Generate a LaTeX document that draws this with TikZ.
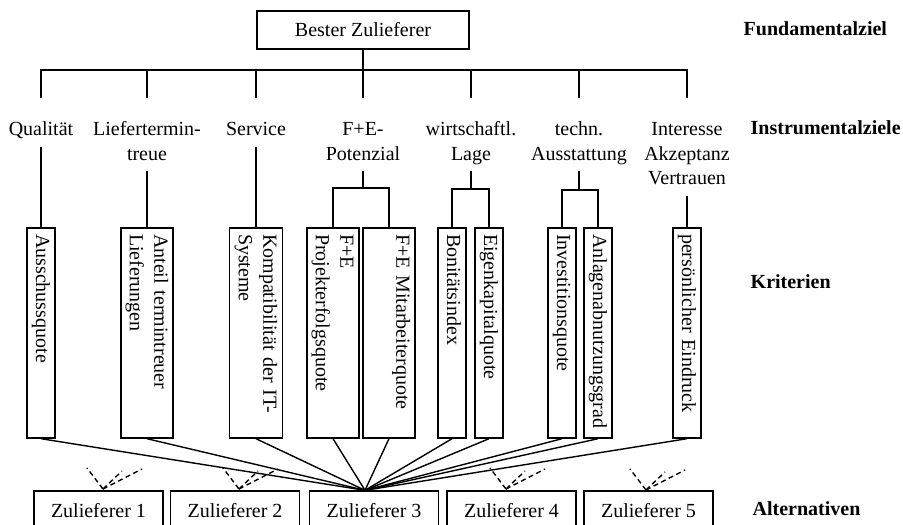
\documentclass[tikz,border=0pt]{standalone}
\usepackage{fontspec}
\setmainfont{Liberation Serif}
\begin{document}
\begin{tikzpicture}[x=1pt,y=-1pt, line width=1.4pt,
  every node/.style={font=\fontsize{20}{24.5}\selectfont},
  topbox/.style={draw, minimum width=212pt, minimum height=38pt, inner sep=0pt},
  ilabel/.style={align=center, anchor=north, inner sep=0pt},
  crit/.style={draw, rotate=-90, minimum width=210pt, text width=198pt, align=left, inner xsep=6pt, inner ysep=1pt},
  alt/.style={draw, minimum width=129pt, minimum height=39pt, inner sep=0pt},
  level/.style={font=\fontsize{20}{24.5}\selectfont\bfseries, anchor=base west, inner sep=0pt},
  dashlink/.style={dash pattern=on 5pt off 3.5pt}
]
\useasboundingbox (0,0) rectangle (903,525);

% Fundamental goal
\node[topbox] (top) at (363,30) {Bester Zulieferer};
\coordinate (bar) at (363,70);
\foreach \i/\x in {1/41,2/147,3/256,4/363,5/471,6/579,7/687} \coordinate (d\i) at (\x,98);
\draw (top.south) -- (bar);
\foreach \i in {1,...,7} \draw (bar) -| (d\i);

% Instrumental goals
\node[ilabel] (l1) at (41,118) {\strut Qualität\strut};
\node[ilabel] (l2) at (147,118) {\strut Liefertermin-\\treue\strut};
\node[ilabel] (l3) at (256,118) {\strut Service\strut};
\node[ilabel] (l4) at (363,118) {\strut F+E-\\Potenzial\strut};
\node[ilabel] (l5) at (471,118) {\strut wirtschaftl.\\Lage\strut};
\node[ilabel] (l6) at (579,118) {\strut techn.\\Ausstattung\strut};
\node[ilabel] (l7) at (687,118) {\strut Interesse\\Akzeptanz\\Vertrauen\strut};

% Criteria
\node[crit, minimum height=28pt] (c1) at (41,333) {\strut Ausschussquote};
\node[crit, minimum height=52pt] (c2) at (147,333) {\strut Anteil termintreuer\\Lieferungen\strut};
\node[crit, minimum height=53pt] (c3) at (256,333) {\strut Kompatibilität der IT-\\Systeme\strut};
\node[crit, minimum height=52pt] (c4) at (333,333) {\strut F+E\\Projekterfolgsquote\strut};
\node[crit, minimum height=52pt] (c5) at (389,333) {\strut F+E Mitarbeiterquote\\\strut};
\node[crit, minimum height=28pt] (c6) at (452,333) {\strut Bonitätsindex};
\node[crit, minimum height=28pt] (c7) at (489,333) {\strut Eigenkapitalquote};
\node[crit, minimum height=28pt] (c8) at (562,333) {\strut Investitionsquote};
\node[crit, minimum height=28pt] (c9) at (598,333) {\strut Anlagenabnutzungsgrad};
\node[crit, minimum height=28pt] (c10) at (687,333) {\strut persönlicher Eindruck};

% goal -> criteria
\draw ([yshift=-3pt]l1.south) -- (c1.west);
\draw ([yshift=-3pt]l2.south) -- (c2.west);
\draw ([yshift=-3pt]l3.south) -- (c3.west);
\coordinate (j4) at (363,188);
\draw ([yshift=-3pt]l4.south) -- (j4);
\draw (c4.west) |- (j4) -| (c5.west);
\coordinate (j5) at (471,189);
\draw ([yshift=-3pt]l5.south) -- (j5);
\draw (c6.west) |- (j5) -| (c7.west);
\coordinate (j6) at (579,190);
\draw ([yshift=-3pt]l6.south) -- (j6);
\draw (c8.west) |- (j6) -| (c9.west);
\draw ([yshift=-3pt]l7.south) -- (c10.west);

% Alternatives
\node[alt] (z1) at (98.5,510.5) {Zulieferer 1};
\node[alt] (z2) at (235,510.5) {Zulieferer 2};
\node[alt] (z3) at (374,510.5) {Zulieferer 3};
\node[alt] (z4) at (511.5,510.5) {Zulieferer 4};
\node[alt] (z5) at (648.5,510.5) {Zulieferer 5};

\coordinate (conv) at ([xshift=-9pt]z3.north);
\foreach \i in {1,...,10} \draw (c\i.east) -- (conv);

% dashed fans
\coordinate (b1) at (103,489);
\coordinate (b2) at (239,489);
\coordinate (b4) at (506,489);
\coordinate (b5) at (646,490);
\foreach \b in {b1,b2,b4,b5} {
  \draw[dashlink] (\b) -- ++(-16,-21);
  \draw[dashlink] (\b) -- ++(19,-18);
  \draw[dashlink] (\b) -- ++(39,-20);
}

% Level labels
\node[level] (fz) at (743,35) {Fundamentalziel};
\node[level] (iz) at (750,134) {Instrumentalziele};
\node[level] (kr) at (750,288) {Kriterien};
\node[level] (al) at (752,515) {Alternativen};
\end{tikzpicture}
\end{document}
